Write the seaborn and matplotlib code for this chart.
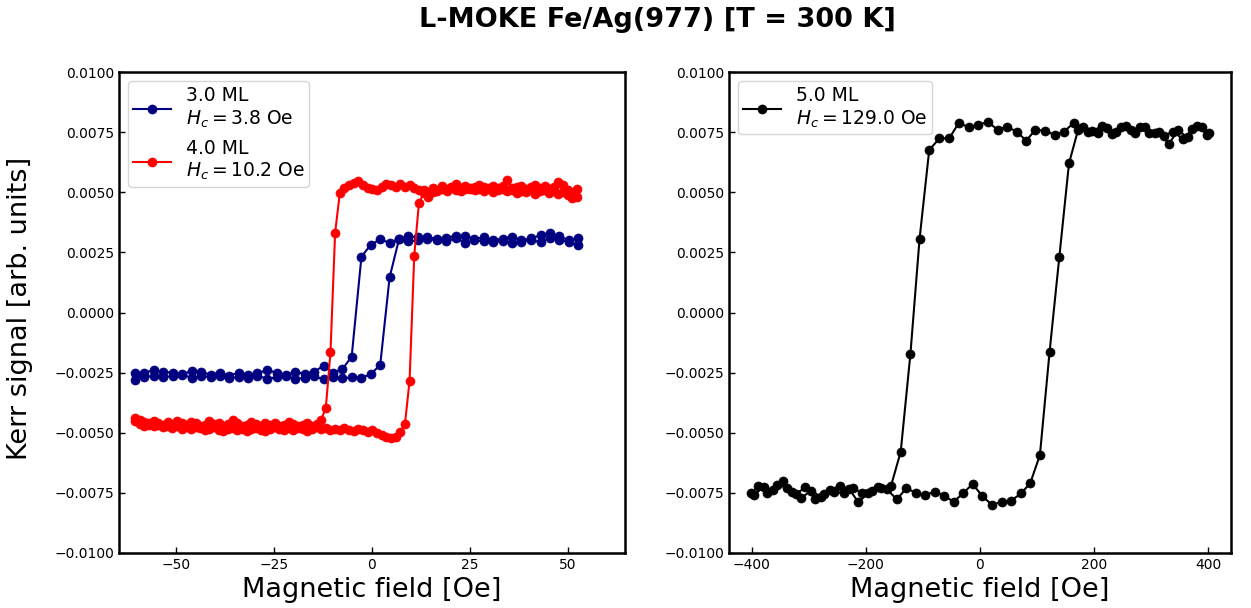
import matplotlib
matplotlib.use("Agg")
import matplotlib.pyplot as plt
from matplotlib.ticker import FuncFormatter, MultipleLocator
import seaborn as sns

# ---------------- data ----------------
# 3.0 ML (field grid in ascending order; descending branch uses it reversed)
field_3ml = [-60.6, -58.2, -55.8, -53.4, -51.0, -48.5, -46.1, -43.7, -41.3, -38.9,
             -36.5, -34.1, -31.7, -29.3, -26.8, -24.4, -22.0, -19.6, -17.2, -14.8,
             -12.4, -10.0, -7.6, -5.2, -2.7, -0.3, 2.1, 4.5, 6.9, 9.3,
             11.7, 14.1, 16.5, 19.0, 21.4, 23.8, 26.2, 28.6, 31.0, 33.4,
             35.8, 38.2, 40.7, 43.1, 45.5, 47.9, 50.3, 52.7]
kerr_3ml_down = [0.00308, 0.00300, 0.00318, 0.00330, 0.00322, 0.00308, 0.00300, 0.00316, 0.00306, 0.00302,
                 0.00312, 0.00306, 0.00318, 0.00320, 0.00310, 0.00306, 0.00314, 0.00312, 0.00318, 0.00306,
                 0.00290, 0.00304, 0.00282, 0.00232, -0.00184, -0.00236, -0.00250, -0.00222, -0.00246, -0.00254,
                 -0.00248, -0.00258, -0.00250, -0.00240, -0.00252, -0.00258, -0.00250, -0.00262, -0.00250, -0.00258,
                 -0.00248, -0.00244, -0.00256, -0.00250, -0.00246, -0.00240, -0.00250, -0.00282]
kerr_3ml_up = [-0.00253, -0.00270, -0.00262, -0.00268, -0.00265, -0.00258, -0.00272, -0.00262, -0.00270, -0.00266,
               -0.00274, -0.00268, -0.00272, -0.00262, -0.00276, -0.00270, -0.00264, -0.00276, -0.00272, -0.00265,
               -0.00278, -0.00270, -0.00274, -0.00270, -0.00272, -0.00256, -0.00218, 0.00146, 0.00304, 0.00296,
               0.00300, 0.00306, 0.00300, 0.00296, 0.00308, 0.00290, 0.00300, 0.00296, 0.00292, 0.00298,
               0.00290, 0.00294, 0.00302, 0.00292, 0.00310, 0.00300, 0.00294, 0.00280]

# 4.0 ML
field_4ml = [-60.60, -59.41, -58.22, -57.03, -55.84, -54.65, -53.46, -52.27, -51.08, -49.89,
             -48.70, -47.51, -46.32, -45.13, -43.94, -42.75, -41.56, -40.37, -39.18, -37.99,
             -36.80, -35.61, -34.42, -33.23, -32.04, -30.85, -29.66, -28.47, -27.28, -26.09,
             -24.90, -23.71, -22.52, -21.33, -20.14, -18.95, -17.76, -16.57, -15.38, -14.19,
             -13.00, -11.81, -10.62, -9.43, -8.24, -7.05, -5.86, -4.67, -3.48, -2.29,
             -1.10, 0.09, 1.28, 2.47, 3.66, 4.85, 6.04, 7.23, 8.42, 9.61,
             10.80, 11.99, 13.18, 14.37, 15.56, 16.75, 17.94, 19.13, 20.32, 21.51,
             22.70, 23.89, 25.08, 26.27, 27.46, 28.65, 29.84, 31.03, 32.22, 33.41,
             34.60, 35.79, 36.98, 38.17, 39.36, 40.55, 41.74, 42.93, 44.12, 45.31,
             46.50, 47.69, 48.88, 50.07, 51.26, 52.45]
kerr_4ml_down = [0.00514, 0.00478, 0.00510, 0.00532, 0.00543, 0.00520, 0.00512, 0.00526, 0.00518, 0.00530,
                 0.00522, 0.00514, 0.00528, 0.00520, 0.00516, 0.00550, 0.00524, 0.00518, 0.00528, 0.00516,
                 0.00522, 0.00530, 0.00520, 0.00514, 0.00526, 0.00518, 0.00536, 0.00522, 0.00515, 0.00524,
                 0.00508, 0.00516, 0.00501, 0.00510, 0.00508, 0.00518, 0.00529, 0.00520, 0.00536, 0.00522,
                 0.00529, 0.00536, 0.00520, 0.00508, 0.00512, 0.00516, 0.00530, 0.00548, 0.00540, 0.00532,
                 0.00518, 0.00496, 0.00332, -0.00166, -0.00396, -0.00447, -0.00462, -0.00470, -0.00458, -0.00466,
                 -0.00474, -0.00462, -0.00456, -0.00468, -0.00472, -0.00460, -0.00466, -0.00458, -0.00470, -0.00462,
                 -0.00454, -0.00466, -0.00472, -0.00460, -0.00448, -0.00462, -0.00470, -0.00458, -0.00464, -0.00452,
                 -0.00466, -0.00474, -0.00460, -0.00454, -0.00468, -0.00458, -0.00450, -0.00462, -0.00456, -0.00466,
                 -0.00458, -0.00450, -0.00460, -0.00454, -0.00446, -0.00440]
kerr_4ml_up = [-0.00452, -0.00462, -0.00470, -0.00466, -0.00474, -0.00468, -0.00476, -0.00470, -0.00480, -0.00474,
               -0.00484, -0.00478, -0.00486, -0.00476, -0.00482, -0.00490, -0.00484, -0.00478, -0.00488, -0.00494,
               -0.00486, -0.00480, -0.00490, -0.00484, -0.00492, -0.00486, -0.00480, -0.00488, -0.00494, -0.00484,
               -0.00478, -0.00486, -0.00490, -0.00482, -0.00488, -0.00480, -0.00486, -0.00492, -0.00484, -0.00478,
               -0.00486, -0.00480, -0.00488, -0.00484, -0.00490, -0.00482, -0.00488, -0.00494, -0.00486, -0.00490,
               -0.00496, -0.00489, -0.00500, -0.00510, -0.00516, -0.00523, -0.00516, -0.00496, -0.00464, -0.00284,
               0.00235, 0.00454, 0.00496, 0.00480, 0.00500, 0.00506, 0.00512, 0.00505, 0.00516, 0.00510,
               0.00504, 0.00512, 0.00518, 0.00508, 0.00514, 0.00506, 0.00512, 0.00500, 0.00508, 0.00514,
               0.00504, 0.00510, 0.00496, 0.00506, 0.00500, 0.00512, 0.00494, 0.00504, 0.00510, 0.00498,
               0.00506, 0.00492, 0.00500, 0.00488, 0.00496, 0.00480]

# 5.0 ML
field_5ml_down = [398, 381, 364, 347, 331, 314, 297, 281, 264, 247,
                  231, 214, 197, 181, 164, 147, 131, 114, 97, 81,
                  64, 47, 31, 14, -3, -20, -37, -54, -71, -89,
                  -106, -122, -139, -156, -173, -189, -206, -223, -239, -256,
                  -273, -289, -306, -323, -339, -356, -373, -389, -401]
kerr_5ml_down = [0.00740, 0.00775, 0.00728, 0.00758, 0.00700, 0.00752, 0.00745, 0.00770, 0.00760, 0.00772,
                 0.00742, 0.00775, 0.00755, 0.00773, 0.00787, 0.00752, 0.00738, 0.00756, 0.00759, 0.00715,
                 0.00752, 0.00773, 0.00759, 0.00793, 0.00780, 0.00770, 0.00789, 0.00724, 0.00724, 0.00676,
                 0.00305, -0.00173, -0.00579, -0.00721, -0.00728, -0.00741, -0.00752, -0.00730, -0.00752, -0.00745,
                 -0.00755, -0.00775, -0.00727, -0.00755, -0.00728, -0.00717, -0.00752, -0.00722, -0.00750]
field_5ml_up = [-396, -379, -363, -346, -329, -313, -296, -279, -263, -246,
                -229, -213, -196, -179, -163, -146, -129, -113, -96, -79,
                -63, -46, -29, -13, 4, 21, 38, 55, 72, 88,
                105, 122, 139, 156, 172, 189, 206, 222, 239, 256,
                272, 289, 306, 322, 339, 356, 372, 389, 401]
kerr_5ml_up = [-0.00759, -0.00724, -0.00740, -0.00700, -0.00745, -0.00770, -0.00741, -0.00766, -0.00738, -0.00720,
               -0.00735, -0.00790, -0.00749, -0.00725, -0.00735, -0.00777, -0.00731, -0.00749, -0.00759, -0.00745,
               -0.00763, -0.00787, -0.00750, -0.00713, -0.00763, -0.00800, -0.00787, -0.00782, -0.00752, -0.00710,
               -0.00593, -0.00163, 0.00230, 0.00620, 0.00760, 0.00752, 0.00745, 0.00766, 0.00752, 0.00775,
               0.00748, 0.00770, 0.00745, 0.00735, 0.00752, 0.00720, 0.00762, 0.00772, 0.00745]

labels = ["3.0 ML\n$H_c = 3.8$ Oe", "4.0 ML\n$H_c = 10.2$ Oe", "5.0 ML\n$H_c = 129.0$ Oe"]
colors = ["navy", "red", "black"]
y_ticks = [-0.01, -0.0075, -0.005, -0.0025, 0.0, 0.0025, 0.005, 0.0075, 0.01]
title = "L-MOKE Fe/Ag(977) [T = 300 K]"

# ---------------- figure ----------------
plt.rcParams["font.family"] = ["DejaVu Sans"]
W, H = 1251, 608
fig = plt.figure(figsize=(W / 100, H / 100), dpi=100)
ax1 = fig.add_axes([119 / W, 1 - 553 / H, (625 - 119) / W, (553 - 72) / H])
ax2 = fig.add_axes([729 / W, 1 - 553 / H, (1231 - 729) / W, (553 - 72) / H])

def draw(ax, x, y, color, label):
    sns.lineplot(x=x, y=y, sort=False, estimator=None, ax=ax, color=color,
                 marker="o", markersize=6.5, markeredgecolor=color,
                 markeredgewidth=0.5, linewidth=1.5, label=label)

draw(ax1, field_3ml[::-1] + field_3ml, kerr_3ml_down + kerr_3ml_up, colors[0], labels[0])
draw(ax1, field_4ml[::-1] + field_4ml, kerr_4ml_down + kerr_4ml_up, colors[1], labels[1])
draw(ax2, field_5ml_down + field_5ml_up, kerr_5ml_down + kerr_5ml_up, colors[2], labels[2])

fmt = FuncFormatter(lambda v, p: f"{v:.4f}".replace("-", "\u2212"))
for ax in (ax1, ax2):
    ax.set_ylim(-0.01, 0.01)
    ax.set_yticks(y_ticks)
    ax.yaxis.set_major_formatter(fmt)
    ax.tick_params(direction="in", labelsize=10, length=4, width=1)
    for sp in ax.spines.values():
        sp.set_linewidth(1.8)
    ax.set_xlabel("Magnetic field [Oe]", fontsize=19.5)
    ax.legend(loc="upper left", fontsize=13.5, labelspacing=0.5, borderpad=0.25)

ax1.set_xlim(-64.7, 64.7)
ax1.xaxis.set_major_locator(MultipleLocator(25))
ax2.set_xlim(-440, 440)
ax2.xaxis.set_major_locator(MultipleLocator(200))
ax1.set_ylabel("Kerr signal [arb. units]", fontsize=19.5)
ax1.yaxis.set_label_coords((33 - 119) / (625 - 119), 0.508)
ax2.set_ylabel("")

fig.suptitle(title, fontsize=19.5, fontweight="bold", x=657 / W, y=1 - 20 / H, va="center")
fig.savefig("out.png", dpi=100)
